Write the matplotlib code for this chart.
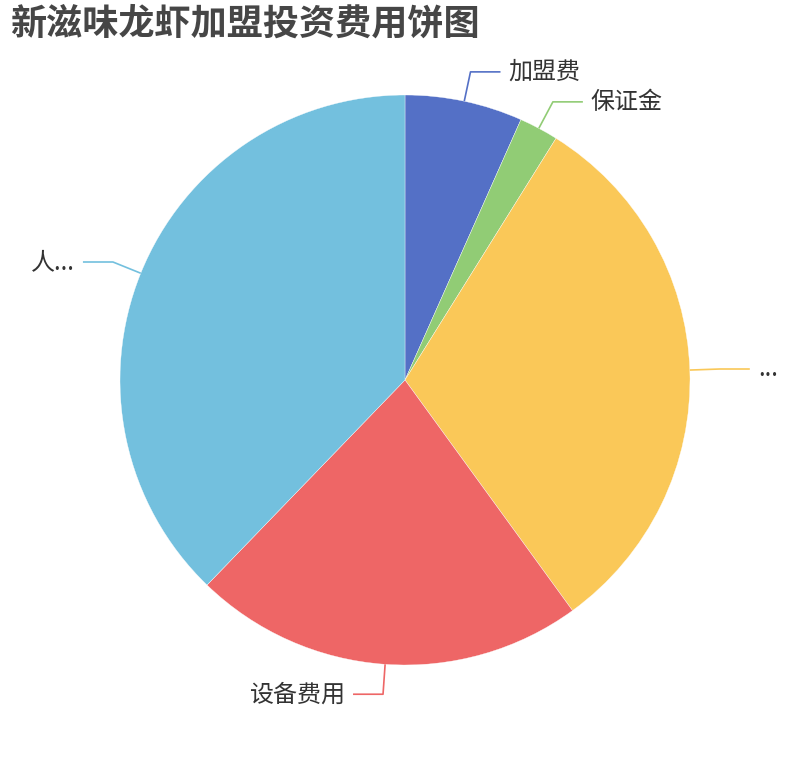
import numpy as np
import matplotlib
matplotlib.use('Agg')
import matplotlib.pyplot as plt

plt.rcParams['font.family'] = ['Noto Sans CJK SC', 'DejaVu Sans']

title = '新滋味龙虾加盟投资费用饼图'
labels = ['加盟费', '保证金', '...', '设备费用', '人...']
values = [3, 1, 14, 10, 17]
colors = ['#5470c6', '#91cc75', '#fac858', '#ee6666', '#73c0de']

W, H = 810, 760
cx, cy, r = 405, H - 380, 285
len1, len2 = 30, 30

fig = plt.figure(figsize=(W / 100, H / 100), dpi=100)
ax = fig.add_axes([0, 0, 1, 1])

wedges, _ = ax.pie(values, colors=colors, startangle=90, counterclock=False,
                   center=(cx, cy), radius=r,
                   wedgeprops=dict(edgecolor='white', linewidth=0.25))
ax.set_xlim(0, W)
ax.set_ylim(0, H)
ax.set_aspect('auto')
ax.axis('off')

for w, lab, col in zip(wedges, labels, colors):
    mid = np.deg2rad((w.theta1 + w.theta2) / 2)
    ux, uy = np.cos(mid), np.sin(mid)
    x0, y0 = cx + r * ux, cy + r * uy
    x1, y1 = cx + (r + len1) * ux, cy + (r + len1) * uy
    side = 1 if ux >= 0 else -1
    x2 = x1 + side * len2
    ax.plot([x0, x1, x2], [y0, y1, y1], color=col, lw=1.2, solid_capstyle='butt')
    ax.text(x2 + side * 8, y1, lab, fontsize=17.3, color='#333333',
            ha='left' if side > 0 else 'right', va='center')

fig.text(10 / W, 1 - 24 / H, title, fontsize=26, fontweight='bold',
         color='#464646', ha='left', va='center')

fig.savefig('out.png', dpi=100)
